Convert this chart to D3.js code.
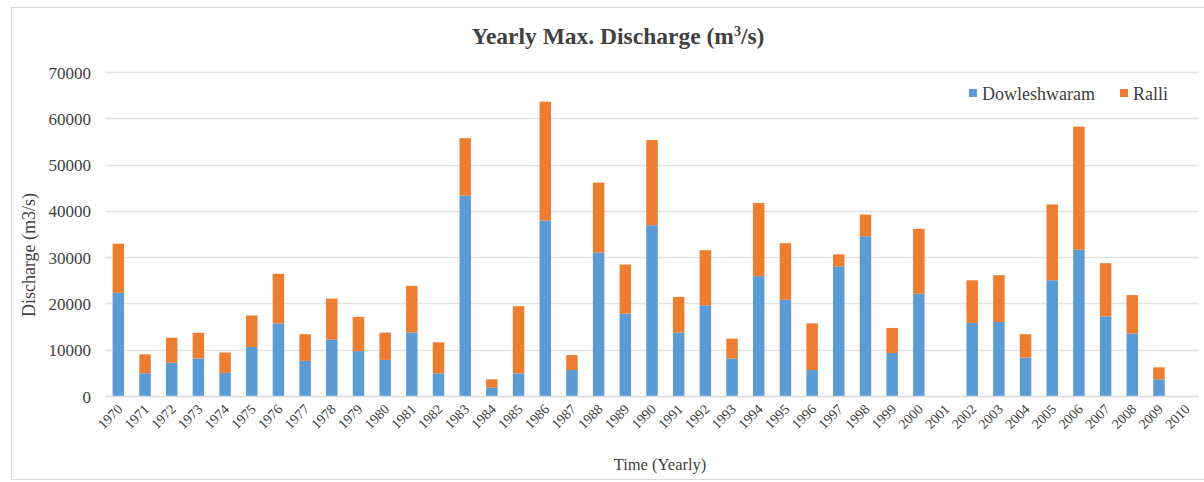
<!DOCTYPE html>
<html>
<head>
<meta charset="utf-8">
<script src="https://cdn.jsdelivr.net/npm/d3@7"></script>
<style>
  html, body { margin: 0; padding: 0; background: #ffffff; }
  svg { display: block; }
  text { font-family: "Liberation Serif", "Times New Roman", serif; fill: #404040; }
</style>
</head>
<body>
<svg id="chart" width="1204" height="482"></svg>
<script>
const years = ["1970","1971","1972","1973","1974","1975","1976","1977","1978","1979",
  "1980","1981","1982","1983","1984","1985","1986","1987","1988","1989",
  "1990","1991","1992","1993","1994","1995","1996","1997","1998","1999",
  "2000","2001","2002","2003","2004","2005","2006","2007","2008","2009","2010"];
const dowleshwaram = [22300, 4900, 7200, 8100, 5000, 10600, 15700, 7600, 12200, 9700,
  7800, 13700, 4900, 43300, 1800, 4900, 37900, 5600, 31000, 17800,
  36900, 13700, 19600, 8100, 25900, 20800, 5600, 28000, 34500, 9300,
  22100, 0, 15800, 16000, 8300, 25000, 31600, 17200, 13500, 3600, 0];
const ralli = [10600, 4100, 5400, 5550, 4400, 6800, 10700, 5750, 8850, 7400,
  5900, 10100, 6700, 12400, 1800, 14500, 25700, 3250, 15100, 10600,
  18400, 7700, 11900, 4300, 15800, 12200, 10100, 2600, 4700, 5400,
  14000, 0, 9200, 10100, 5050, 16400, 26600, 11500, 8300, 2600, 0];
const yTicks = [0, 10000, 20000, 30000, 40000, 50000, 60000, 70000];
const seriesNames = ["Dowleshwaram", "Ralli"];
const colors = ["#5b9bd5", "#ed7d31"];

const svg = d3.select("#chart");
const plot = { left: 105, right: 1199, top: 72, bottom: 396 };
const FONT = "'Liberation Serif', 'Times New Roman', serif";

// chart frame
svg.append("rect").attr("x", 11.5).attr("y", 7.5).attr("width", 1204).attr("height", 472)
  .attr("fill", "#ffffff").attr("stroke", "#d9d9d9").attr("stroke-width", 1);

const x = d3.scaleBand().domain(years).range([plot.left, plot.right]).paddingInner(0.57).paddingOuter(0.285);
const y = d3.scaleLinear().domain([0, 70000]).range([plot.bottom, plot.top]);

// gridlines
svg.append("g").selectAll("line").data(yTicks.filter(d => d > 0)).join("line")
  .attr("x1", plot.left).attr("x2", plot.right)
  .attr("y1", d => Math.round(y(d)) + 0.5).attr("y2", d => Math.round(y(d)) + 0.5)
  .attr("stroke", "#e3e3e3").attr("stroke-width", 1.3);

// y axis labels
const yAxis = d3.axisLeft(y).tickValues(yTicks).tickSize(0).tickPadding(0).tickFormat(d3.format("d"));
const yg = svg.append("g").attr("transform", `translate(91,0)`).call(yAxis);
yg.select(".domain").remove();
yg.selectAll("text").attr("font-size", 17).attr("fill", "#404040")
  .attr("font-family", FONT).attr("dy", "0.36em");

// stacked data
const table = years.map((yr, i) => ({ year: yr, Dowleshwaram: dowleshwaram[i], Ralli: ralli[i] }));
const stack = d3.stack().keys(seriesNames)(table);

svg.append("g").selectAll("g").data(stack).join("g")
  .attr("fill", (d, i) => colors[i])
  .selectAll("rect").data(d => d).join("rect")
  .attr("x", d => x(d.data.year))
  .attr("width", x.bandwidth())
  .attr("y", d => y(d[1]))
  .attr("height", d => Math.max(0, y(d[0]) - y(d[1])));

// baseline
svg.append("line").attr("x1", plot.left).attr("x2", plot.right)
  .attr("y1", plot.bottom + 0.5).attr("y2", plot.bottom + 0.5)
  .attr("stroke", "#d9d9d9").attr("stroke-width", 1.3);

// x axis labels
const xAxis = d3.axisBottom(x).tickSize(0).tickPadding(0);
const xg = svg.append("g").attr("transform", `translate(0,${plot.bottom})`).call(xAxis);
xg.select(".domain").remove();
xg.selectAll("text")
  .attr("font-size", 14).attr("fill", "#404040").attr("font-family", FONT)
  .attr("text-anchor", "end")
  .attr("dy", null).attr("y", null)
  .attr("transform", "translate(5,14) rotate(-45)");

// title
const title = svg.append("text").attr("x", 618).attr("y", 44).attr("text-anchor", "middle")
  .attr("font-family", FONT)
  .attr("font-size", 23.5).attr("font-weight", "bold").attr("fill", "#262626");
title.append("tspan").text("Yearly Max. Discharge (m");
title.append("tspan").text("3").attr("font-size", 14).attr("dy", -8);
title.append("tspan").text("/s)").attr("dy", 8);

// axis titles
svg.append("text").attr("x", 660).attr("y", 470).attr("text-anchor", "middle")
  .attr("font-family", FONT).attr("font-size", 16.5).text("Time (Yearly)");
svg.append("text").attr("transform", "translate(35,255) rotate(-90)").attr("text-anchor", "middle")
  .attr("font-family", FONT).attr("font-size", 18).text("Discharge (m3/s)");

// legend
const legendPos = [{ sx: 969, tx: 982 }, { sx: 1120, tx: 1133 }];
const lg = svg.append("g");
seriesNames.forEach((name, i) => {
  lg.append("rect").attr("x", legendPos[i].sx).attr("y", 89).attr("width", 8).attr("height", 8).attr("fill", colors[i]);
  lg.append("text").attr("x", legendPos[i].tx).attr("y", 100).attr("font-family", FONT)
    .attr("font-size", 18).text(name);
});
</script>
</body>
</html>
